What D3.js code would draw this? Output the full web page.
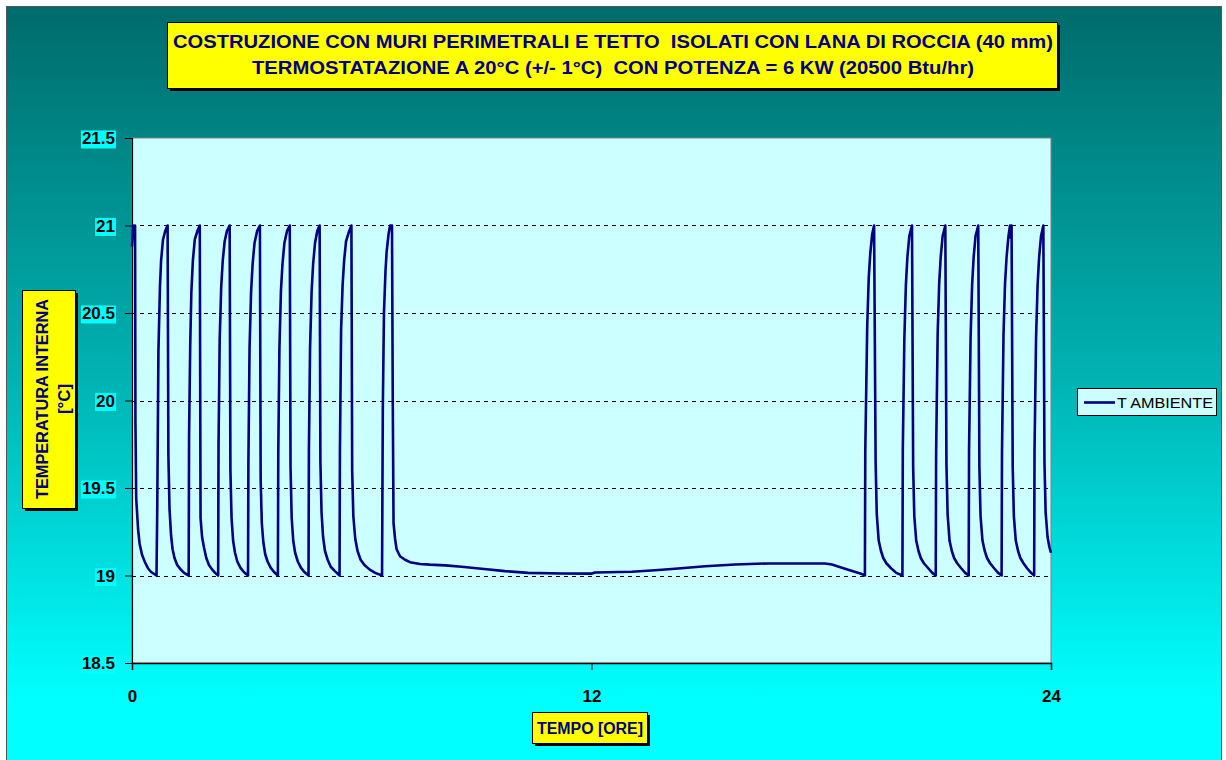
<!DOCTYPE html>
<html>
<head>
<meta charset="utf-8">
<script src="https://cdn.jsdelivr.net/npm/d3@7"></script>
<style>
  html, body { margin: 0; padding: 0; background: #ffffff; }
  svg { display: block; }
  text { white-space: pre; }
</style>
</head>
<body>
<svg id="chart" width="1226" height="760"></svg>
<script>
// ---------------- DATA ----------------
const titleLines = [
  "COSTRUZIONE CON MURI PERIMETRALI E TETTO  ISOLATI CON LANA DI ROCCIA (40 mm)",
  "TERMOSTATAZIONE A 20°C (+/- 1°C)  CON POTENZA = 6 KW (20500 Btu/hr)"
];
const yAxisTitle = ["TEMPERATURA INTERNA", "[°C]"];
const xAxisTitle = "TEMPO [ORE]";
const seriesName = "T AMBIENTE";
const yTicks = [18.5, 19, 19.5, 20, 20.5, 21, 21.5];
const yGrid = [19, 19.5, 20, 20.5, 21];
const xTicks = [0, 12, 24];

// time [h]
const hours = [
  0.00,0.03,0.05,0.08,0.09,0.11,0.16,0.20,0.26,0.33,0.42,0.50,0.64,
  0.66,0.69,0.73,0.76,0.81,0.87,0.93,0.95,0.98,1.02,1.06,1.11,1.18,1.27,1.36,1.48,
  1.49,1.52,1.55,1.59,1.64,1.71,1.77,1.79,1.83,1.88,1.94,2.01,2.09,2.17,2.25,
  2.26,2.29,2.33,2.37,2.42,2.48,2.55,2.57,2.60,2.64,2.69,2.75,2.83,2.92,3.03,
  3.04,3.07,3.11,3.15,3.20,3.27,3.34,3.36,3.39,3.43,3.48,3.54,3.62,3.71,3.81,
  3.82,3.85,3.89,3.93,3.98,4.05,4.12,4.14,4.17,4.21,4.26,4.33,4.41,4.50,4.61,
  4.62,4.65,4.69,4.73,4.78,4.84,4.90,4.92,4.95,4.99,5.04,5.11,5.19,5.30,5.42,
  5.43,5.46,5.50,5.54,5.59,5.66,5.73,5.75,5.78,5.83,5.89,5.97,6.07,6.20,6.35,6.53,
  6.55,6.58,6.62,6.65,6.70,6.74,6.79,6.81,6.83,6.87,6.91,7.00,7.13,7.26,7.52,7.78,
  8.18,8.61,9.13,9.74,10.35,11.22,12.01,12.09,13.05,13.66,14.18,14.97,15.75,16.62,
  17.32,18.10,18.28,18.62,19.06,19.14,
  19.15,19.20,19.24,19.28,19.33,19.38,19.42,19.45,19.50,19.56,19.62,19.70,19.83,19.96,20.12,
  20.13,20.17,20.21,20.25,20.30,20.37,20.40,20.43,20.48,20.54,20.60,20.68,20.80,20.90,20.99,
  21.00,21.04,21.08,21.12,21.17,21.24,21.27,21.30,21.35,21.41,21.47,21.55,21.66,21.76,21.85,
  21.86,21.90,21.94,21.98,22.03,22.10,22.13,22.16,22.21,22.27,22.33,22.41,22.52,22.62,22.71,
  22.72,22.76,22.80,22.84,22.89,22.93,22.95,22.97,23.00,23.03,23.08,23.14,23.20,23.28,23.38,23.48,23.56,
  23.57,23.61,23.65,23.69,23.74,23.80,23.83,23.86,23.91,23.96,24.00
];
// T AMBIENTE [°C]
const tAmbiente = [
  20.88,21.00,20.95,21.00,19.87,19.44,19.26,19.18,19.12,19.08,19.04,19.02,19.00,
  19.40,20.28,20.65,20.80,20.92,20.97,21.00,19.69,19.38,19.23,19.15,19.10,19.06,19.035,19.015,19.00,
  19.79,20.31,20.62,20.80,20.92,20.97,21.00,19.33,19.22,19.16,19.10,19.06,19.035,19.015,19.00,
  19.75,20.35,20.65,20.80,20.91,20.97,21.00,19.60,19.33,19.20,19.13,19.08,19.045,19.02,19.00,
  19.65,20.30,20.62,20.78,20.90,20.97,21.00,19.55,19.30,19.19,19.12,19.08,19.045,19.02,19.00,
  19.70,20.30,20.63,20.78,20.90,20.97,21.00,19.62,19.33,19.20,19.13,19.08,19.045,19.02,19.00,
  19.72,20.30,20.62,20.78,20.90,20.97,21.00,19.65,19.36,19.22,19.14,19.09,19.05,19.025,19.00,
  19.70,20.40,20.66,20.80,20.91,20.96,21.00,19.60,19.34,19.21,19.14,19.09,19.06,19.035,19.015,19.00,
  19.95,20.50,20.74,20.85,20.95,21.00,21.00,20.00,19.30,19.21,19.15,19.11,19.09,19.076,19.066,19.062,
  19.058,19.050,19.039,19.025,19.015,19.011,19.011,19.017,19.021,19.030,19.039,19.053,19.063,19.069,
  19.069,19.069,19.063,19.039,19.008,19.00,
  19.71,20.42,20.70,20.84,20.95,21.00,19.65,19.35,19.20,19.14,19.10,19.07,19.04,19.015,19.00,
  19.72,20.35,20.66,20.82,20.94,21.00,19.62,19.34,19.20,19.14,19.10,19.07,19.04,19.015,19.00,
  19.70,20.38,20.67,20.82,20.94,21.00,19.63,19.35,19.20,19.14,19.10,19.07,19.04,19.015,19.00,
  19.72,20.36,20.66,20.82,20.94,21.00,19.62,19.34,19.20,19.14,19.10,19.07,19.04,19.015,19.00,
  19.70,20.38,20.67,20.82,20.94,21.00,20.93,21.00,19.62,19.34,19.20,19.14,19.10,19.07,19.04,19.015,19.00,
  19.72,20.36,20.66,20.82,20.94,21.00,19.64,19.36,19.22,19.16,19.13
];

// ---------------- DRAW ----------------
const svg = d3.select("#chart");
const plot = {left: 132, top: 138, right: 1051, bottom: 663};

const defs = svg.append("defs");
const grad = defs.append("linearGradient").attr("id", "bg")
  .attr("x1", 0).attr("y1", 0).attr("x2", 0).attr("y2", 1);
grad.append("stop").attr("offset", "0%").attr("stop-color", "#006b6b");
grad.append("stop").attr("offset", "50%").attr("stop-color", "#00b4b4");
grad.append("stop").attr("offset", "92%").attr("stop-color", "#00ffff");
grad.append("stop").attr("offset", "100%").attr("stop-color", "#00ffff");

svg.append("rect").attr("x", 6.5).attr("y", 6.5).attr("width", 1215).attr("height", 754)
  .attr("fill", "url(#bg)").attr("stroke", "#555").attr("stroke-width", 1);

const x = d3.scaleLinear().domain([0, 24]).range([plot.left, plot.right]);
const y = d3.scaleLinear().domain([18.5, 21.5]).range([plot.bottom, plot.top]);

// plot area
svg.append("rect").attr("x", plot.left).attr("y", plot.top)
  .attr("width", plot.right - plot.left).attr("height", plot.bottom - plot.top)
  .attr("fill", "#ccffff").attr("stroke", "#808080").attr("stroke-width", 1);

// gridlines
svg.append("g").selectAll("line").data(yGrid).join("line")
  .attr("x1", plot.left).attr("x2", plot.right)
  .attr("y1", d => Math.round(y(d)) + 0.5).attr("y2", d => Math.round(y(d)) + 0.5)
  .attr("stroke", "#000").attr("stroke-width", 1).attr("stroke-dasharray", "4,4");

// axes
const yAxis = d3.axisLeft(y).tickValues(yTicks).tickSize(7).tickFormat(d3.format("~g"));
const yg = svg.append("g").attr("transform", `translate(${plot.left},0)`).call(yAxis);
yg.select(".domain").attr("stroke", "#000").attr("stroke-width", 1.2);
yg.selectAll(".tick line").attr("stroke", "#000");
yg.selectAll(".tick text").attr("x", -17).attr("dy", "0.35em")
  .attr("font-family", "Liberation Sans, Arial, sans-serif").attr("font-size", 17)
  .attr("font-weight", "bold").attr("fill", "#000");
yg.selectAll(".tick").each(function() {
  const t = d3.select(this).select("text");
  const bb = t.node().getBBox();
  d3.select(this).insert("rect", "text")
    .attr("x", bb.x - 1).attr("y", bb.y + 1).attr("width", bb.width + 2).attr("height", bb.height - 1)
    .attr("fill", "#00ffff");
});

const xAxis = d3.axisBottom(x).tickValues(xTicks).tickSize(7).tickFormat(d3.format("d"));
const xg = svg.append("g").attr("transform", `translate(0,${plot.bottom})`).call(xAxis);
xg.select(".domain").attr("stroke", "#000").attr("stroke-width", 1.5);
xg.selectAll(".tick line").attr("stroke", "#000");
xg.selectAll(".tick text").attr("y", 27)
  .attr("font-family", "Liberation Sans, Arial, sans-serif").attr("font-size", 17)
  .attr("font-weight", "bold").attr("fill", "#000");

// series line
const pts = hours.map((t, i) => ({t, v: tAmbiente[i]}));
const line = d3.line().x(d => x(d.t)).y(d => y(d.v));
svg.append("path").datum(pts).attr("d", line)
  .attr("fill", "none").attr("stroke", "#000080").attr("stroke-width", 2.6)
  .attr("stroke-linejoin", "round");

// boxed label helper
function box(x0, y0, w, h) {
  svg.append("rect").attr("x", x0 + 3).attr("y", y0 + 3).attr("width", w).attr("height", h).attr("fill", "#000");
  svg.append("rect").attr("x", x0 + 0.5).attr("y", y0 + 0.5).attr("width", w).attr("height", h)
    .attr("fill", "#ffff00").attr("stroke", "#000").attr("stroke-width", 1);
}

// title
box(167, 22, 890, 66);
const titleWidths = [880, 722];
titleLines.forEach((s, i) => {
  svg.append("text").attr("x", 613).attr("y", 48 + i * 26)
    .attr("text-anchor", "middle")
    .attr("font-family", "Liberation Sans, Arial, sans-serif").attr("font-size", 19)
    .attr("font-weight", "bold").attr("fill", "#000080")
    .attr("textLength", titleWidths[i]).attr("lengthAdjust", "spacingAndGlyphs")
    .text(s);
});

// y axis title
box(22, 290, 53, 218);
yAxisTitle.forEach((s, i) => {
  const cx = 42 + i * 22, cy = 399;
  svg.append("text").attr("transform", `translate(${cx},${cy}) rotate(-90)`)
    .attr("text-anchor", "middle").attr("dy", "0.35em")
    .attr("font-family", "Liberation Sans, Arial, sans-serif").attr("font-size", 16)
    .attr("font-weight", "bold").attr("fill", "#000080")
    .attr("textLength", i === 0 ? 200 : 30).attr("lengthAdjust", "spacingAndGlyphs")
    .text(s);
});

// x axis title
box(532, 712, 115, 31);
svg.append("text").attr("x", 590).attr("y", 734).attr("text-anchor", "middle")
  .attr("font-family", "Liberation Sans, Arial, sans-serif").attr("font-size", 16)
  .attr("font-weight", "bold").attr("fill", "#000080")
  .attr("textLength", 106).attr("lengthAdjust", "spacingAndGlyphs")
  .text(xAxisTitle);

// legend
svg.append("rect").attr("x", 1077.5).attr("y", 388.5).attr("width", 139).attr("height", 27)
  .attr("fill", "#ccffff").attr("stroke", "#000").attr("stroke-width", 1);
svg.append("line").attr("x1", 1084).attr("x2", 1115).attr("y1", 402.5).attr("y2", 402.5)
  .attr("stroke", "#000080").attr("stroke-width", 2.6);
svg.append("text").attr("x", 1117).attr("y", 408)
  .attr("font-family", "Liberation Sans, Arial, sans-serif").attr("font-size", 15)
  .attr("fill", "#000").attr("textLength", 96).attr("lengthAdjust", "spacingAndGlyphs")
  .text(seriesName);
</script>
</body>
</html>
